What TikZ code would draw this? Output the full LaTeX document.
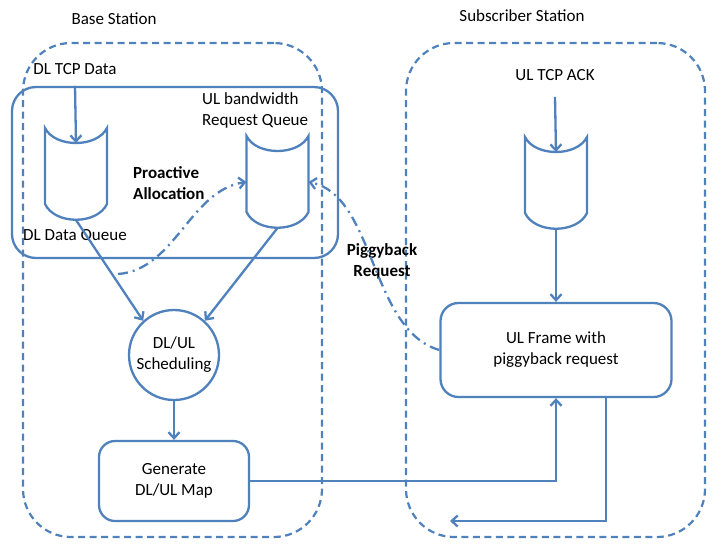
\documentclass[tikz,border=0pt]{standalone}
\usepackage{fontspec}
\setmainfont{Carlito}
\usetikzlibrary{arrows.meta,calc}
\definecolor{lb}{HTML}{4F81BD}
\newcommand\cylshape[1]{%
  \draw[blk] (#1.north west)
    .. controls ([shift={(10pt,-20pt)}]#1.north west) and ([shift={(-10pt,-20pt)}]#1.north east) .. (#1.north east)
    -- ([yshift=16pt]#1.south east)
    .. controls ([shift={(-10pt,-5pt)}]#1.south east) and ([shift={(10pt,-5pt)}]#1.south west) .. ([yshift=16pt]#1.south west)
    -- cycle;}
\begin{document}
\begin{tikzpicture}[x=1pt,y=-1pt,
  blk/.style={draw=lb, line width=2.3pt},
  grp/.style={draw=lb, line width=2.2pt, dash pattern=on 7pt off 4.5pt, rounded corners=48pt,
    minimum width=299pt, minimum height=494pt, inner sep=0pt},
  innerbox/.style={draw=lb, line width=2.3pt, rounded corners=24pt, minimum width=326pt, minimum height=171pt, inner sep=0pt},
  procbox/.style={draw=lb, line width=2.3pt, rounded corners=16pt, fill=white, align=center,
    font=\fontsize{17}{21}\selectfont, inner sep=0pt},
  cylnode/.style={minimum width=62pt, minimum height=92pt, inner sep=0pt, outer sep=0pt},
  lbl/.style={font=\fontsize{17}{21}\selectfont, text=black, inner sep=0pt},
  blbl/.style={font=\fontsize{17}{21}\selectfont\bfseries, text=black, inner sep=0pt},
  arr/.style={draw=lb, line width=2.3pt, -{Straight Barb[length=6pt,width=11pt]}},
  dd/.style={arr, dash pattern=on 10pt off 5pt on 2pt off 5pt},
]
\useasboundingbox (0,0) rectangle (727,550);
\fill[white] (0,0) rectangle (727,550);

% group frames
\node[grp] (bs) at (172.5,290) {};
\node[grp] (ss) at (555.5,290) {};
\node[innerbox] (bsq) at (175,172.5) {};

% titles
\node[lbl] (bstitle) at (114,19) {Base Station};
\node[lbl] (sstitle) at (522,16) {Subscriber Station};

% queues
\node[cylnode] (dlq) at (76,174) {};
\node[cylnode] (ulq) at (277.5,182) {};
\node[cylnode] (ssq) at (556,183) {};
\cylshape{dlq}
\cylshape{ulq}
\cylshape{ssq}

% labels
\node[lbl] (dltcp) at (75,69) {DL TCP Data};
\node[lbl] (ultcp) at (555,75) {UL TCP ACK};
\node[lbl] (dlql) at (75,236) {DL Data Queue};
\node[lbl, align=left, anchor=west] (ulql) at (202,110.5) {UL bandwidth\\Request Queue};
\node[blbl, align=left, anchor=west] (pal) at (133,183) {Proactive\\Allocation};
\node[blbl, align=center] (pbl) at (382,261.5) {Piggyback\\Request};

% process nodes
\node[draw=lb, line width=2.3pt, circle, minimum size=90pt, inner sep=0pt, fill=white, align=center,
  font=\fontsize{17}{21}\selectfont] (sched) at (174,355) {DL/UL\\Scheduling};
\node[procbox, minimum width=150pt, minimum height=80pt] (gen) at (174,481) {Generate\\DL/UL Map};
\node[procbox, minimum width=231pt, minimum height=94pt, rounded corners=18pt] (ulf) at (556,350) {UL Frame with\\piggyback request};

% connectors
\draw[arr] (dltcp.south |- bsq.north) -- ([yshift=-15pt]dlq.north);
\draw[arr] ([yshift=-16pt]ultcp.south) -- ([yshift=-15pt]ssq.north);
\draw[arr] (dlq.south) -- (sched.132);
\draw[arr] (ulq.south) -- (sched.48);
\draw[arr] (sched.south) -- (gen.north);
\draw[arr] (ssq.south) -- (ulf.north);
\draw[arr] (gen.east) -| (ulf.south);
\coordinate (ret) at (450,521);
\draw[arr] ([xshift=50pt]ulf.south) |- (ret);
\coordinate (pastart) at (118,274);
\draw[dd] (pastart) .. controls (175,270) and (190,190) .. (ulq.west);
\draw[dd] (ulf.west) .. controls (370,330) and (375,195) .. (ulq.east);
\end{tikzpicture}
\end{document}
